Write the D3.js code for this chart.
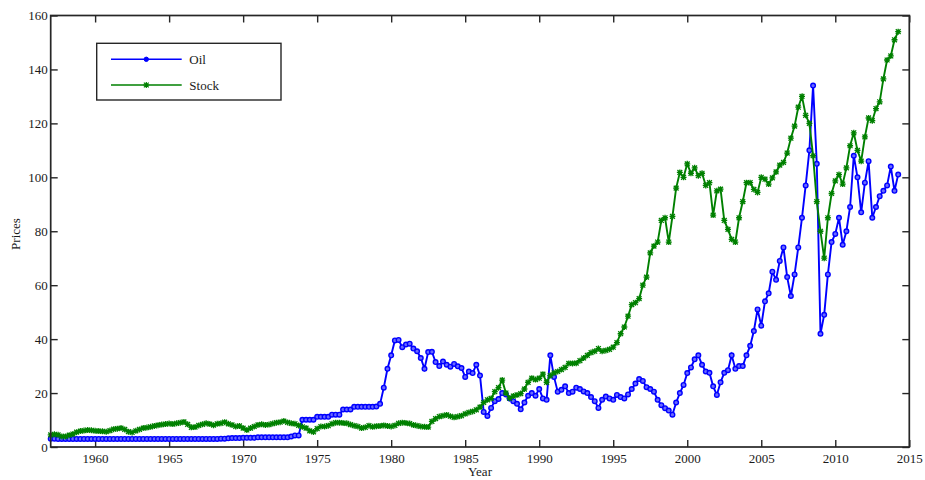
<!DOCTYPE html>
<html lang="en">
<head>
<meta charset="UTF-8">
<title>Oil and Stock prices</title>
<script src="https://d3js.org/d3.v7.min.js"></script>
<style>
    body { margin: 0; background: #fff; }
    text {
        font-family: 'Liberation Serif', 'Times New Roman', serif;
        font-size: 13px;
        fill: #1a1a1a;
    }
    .axis .domain { display: none; }
    .axis line { stroke: #262626; stroke-width: 1.4; }
</style>
</head>
<body>
<svg id="chart" width="925" height="480"></svg>
<script>
    // quarterly values, first one is 1957 Q1
    const startYear = 1957;

    const oilPrices = [
        3.1, 3.1, 3.0, 3.0,     // 1957
        3.0, 3.0, 3.0, 3.0,     // 1958
        3.0, 3.0, 3.0, 3.0,     // 1959
        3.0, 3.0, 3.0, 3.0,     // 1960
        3.0, 3.0, 3.0, 3.0,     // 1961
        3.0, 3.0, 3.0, 3.0,     // 1962
        3.0, 3.0, 3.0, 3.0,     // 1963
        3.0, 3.0, 3.0, 3.0,     // 1964
        3.0, 3.0, 3.0, 3.0,     // 1965
        3.0, 3.0, 3.0, 3.0,     // 1966
        3.0, 3.0, 3.0, 3.0,     // 1967
        3.0, 3.0, 3.1, 3.1,     // 1968
        3.2, 3.3, 3.3, 3.3,     // 1969
        3.4, 3.4, 3.4, 3.4,     // 1970
        3.6, 3.6, 3.6, 3.6,     // 1971
        3.6, 3.6, 3.6, 3.6,     // 1972
        3.6, 3.9, 4.3, 4.3,     // 1973
        10.1, 10.1, 10.1, 10.1, // 1974
        11.2, 11.2, 11.2, 11.2, // 1975
        12.0, 12.0, 12.0, 13.9, // 1976
        13.9, 13.9, 14.9, 14.9, // 1977
        14.9, 14.9, 14.9, 14.9, // 1978
        15.0, 16.0, 22.0, 29.0, // 1979
        34.0, 39.5, 39.7, 37.0, // 1980
        38.0, 38.3, 36.5, 35.5, // 1981
        33.0, 29.0, 35.2, 35.3, // 1982
        31.5, 30.0, 31.7, 30.5, // 1983
        29.8, 30.8, 29.9, 29.3, // 1984
        26.0, 28.0, 27.4, 30.5, // 1985
        26.5, 13.0, 11.5, 14.5, // 1986
        17.0, 17.8, 20.0, 19.5, // 1987
        18.0, 17.0, 16.0, 14.0, // 1988
        16.5, 19.0, 20.0, 19.0, // 1989
        21.5, 18.0, 17.5, 34.0, // 1990
        26.0, 20.5, 21.2, 22.5, // 1991
        20.0, 20.5, 22.0, 21.5, // 1992
        20.6, 20.0, 18.5, 17.0, // 1993
        14.5, 17.5, 18.7, 18.0, // 1994
        17.5, 19.3, 18.5, 18.0, // 1995
        19.5, 21.5, 23.5, 25.2, // 1996
        24.5, 22.2, 21.5, 20.5, // 1997
        17.5, 15.5, 14.4, 13.5, // 1998
        12.0, 16.5, 20.0, 23.0, // 1999
        27.4, 29.5, 32.5, 34.0, // 2000
        30.5, 28.0, 27.5, 22.5, // 2001
        19.3, 24.0, 27.5, 28.5, // 2002
        34.0, 29.0, 30.0, 30.0, // 2003
        34.0, 37.5, 43.0, 51.0, // 2004
        45.0, 54.0, 57.0, 65.0, // 2005
        62.0, 69.0, 74.0, 63.0, // 2006
        56.0, 64.0, 74.0, 85.0, // 2007
        97.0, 110.0, 134.0, 105.0, // 2008
        42.0, 49.0, 64.0, 76.0, // 2009
        79.0, 85.0, 75.0, 80.0, // 2010
        89.0, 108.0, 100.0, 87.0, // 2011
        98.0, 106.0, 85.0, 89.0, // 2012
        93.0, 95.0, 97.0, 104.0, // 2013
        95.0, 101.0             // 2014
    ];

    const stockPrices = [
        4.5, 4.7, 4.5, 3.9,     // 1957
        3.9, 4.4, 4.8, 5.5,     // 1958
        5.9, 6.1, 6.3, 6.2,     // 1959
        6.0, 5.9, 5.8, 5.7,     // 1960
        6.1, 6.6, 6.8, 7.0,     // 1961
        6.5, 5.7, 5.4, 6.0,     // 1962
        6.5, 7.0, 7.2, 7.5,     // 1963
        7.8, 8.1, 8.3, 8.5,     // 1964
        8.7, 8.5, 8.8, 9.0,     // 1965
        9.3, 8.4, 7.3, 7.4,     // 1966
        8.0, 8.4, 8.8, 8.5,     // 1967
        8.1, 8.6, 8.8, 9.2,     // 1968
        8.6, 8.2, 7.6, 7.8,     // 1969
        7.0, 6.3, 7.0, 7.6,     // 1970
        8.2, 8.4, 8.2, 8.3,     // 1971
        8.7, 9.0, 9.2, 9.6,     // 1972
        9.1, 8.8, 8.6, 8.0,     // 1973
        7.5, 7.0, 6.0, 5.6,     // 1974
        6.8, 7.6, 7.6, 7.9,     // 1975
        8.6, 9.0, 9.0, 8.9,     // 1976
        8.8, 8.3, 7.9, 7.6,     // 1977
        7.0, 7.3, 7.9, 7.5,     // 1978
        7.7, 7.8, 8.0, 7.8,     // 1979
        7.6, 8.0, 8.8, 9.0,     // 1980
        8.9, 8.7, 8.2, 7.9,     // 1981
        7.6, 7.5, 7.4, 9.5,     // 1982
        10.5, 11.3, 11.6, 11.9, // 1983
        11.4, 11.0, 11.3, 11.6, // 1984
        12.3, 12.8, 13.2, 13.8, // 1985
        14.8, 16.5, 17.5, 18.0, // 1986
        20.5, 22.0, 24.8, 20.0, // 1987
        18.1, 18.9, 19.3, 19.8, // 1988
        21.5, 24.0, 25.5, 25.0, // 1989
        25.5, 27.0, 24.0, 26.5, // 1990
        27.5, 28.0, 28.7, 29.5, // 1991
        31.0, 31.0, 31.1, 32.0, // 1992
        33.0, 34.0, 35.0, 35.5, // 1993
        36.5, 35.5, 35.8, 36.2, // 1994
        37.0, 38.7, 42.0, 44.5, // 1995
        48.5, 52.8, 53.5, 55.0, // 1996
        60.0, 63.0, 72.0, 74.5, // 1997
        76.0, 84.0, 85.0, 76.0, // 1998
        85.5, 96.0, 101.8, 100.0, // 1999
        105.0, 101.5, 103.5, 100.6, // 2000
        101.5, 97.0, 98.0, 86.0, // 2001
        95.0, 95.6, 84.0, 80.7, // 2002
        77.0, 76.0, 85.0, 91.0, // 2003
        98.0, 98.0, 95.5, 94.4, // 2004
        100.0, 99.3, 97.5, 99.8, // 2005
        102.0, 104.5, 105.5, 109.0, // 2006
        114.5, 119.0, 126.0, 130.0, // 2007
        123.0, 120.0, 108.0, 91.0, // 2008
        80.0, 70.0, 85.0, 94.0, // 2009
        98.7, 101.0, 97.5, 103.5, // 2010
        111.7, 116.5, 110.0, 106.0, // 2011
        115.0, 122.0, 121.0, 125.5, // 2012
        128.0, 136.5, 143.5, 145.0, // 2013
        151.0, 154.0            // 2014
    ];

    const xTicks = [1960, 1965, 1970, 1975, 1980, 1985, 1990, 1995, 2000, 2005, 2010, 2015];
    const yTicks = [0, 20, 40, 60, 80, 100, 120, 140, 160];
    const seriesNames = ["Oil", "Stock"];
    const seriesColors = ["#0000ff", "#008000"];

    const width = 925, height = 480;
    const margin = { left: 50.7, right: 15.7, top: 15.5, bottom: 33 };
    const tickLen = 7;

    const chart = d3.select("#chart");

    const x = d3.scaleLinear()
        .domain([1957, 2015])
        .range([margin.left, width - margin.right]);
    const y = d3.scaleLinear()
        .domain([0, 160])
        .range([height - margin.bottom, margin.top]);

    const toPoints = values => values.map((v, i) => ({ t: startYear + i / 4, v: v }));
    const series = [toPoints(oilPrices), toPoints(stockPrices)];

    // axes, ticks pointing inside the box (matlab style)
    chart.append("g")
        .attr("class", "axis")
        .attr("transform", `translate(0,${y(0)})`)
        .call(d3.axisBottom(x).tickValues(xTicks).tickFormat(d3.format("d"))
            .tickSizeInner(-tickLen).tickSizeOuter(0).tickPadding(7));
    chart.append("g")
        .attr("class", "axis")
        .attr("transform", `translate(0,${y(160)})`)
        .call(d3.axisTop(x).tickValues(xTicks).tickFormat("")
            .tickSizeInner(-tickLen).tickSizeOuter(0));
    chart.append("g")
        .attr("class", "axis")
        .attr("transform", `translate(${x(1957)},0)`)
        .call(d3.axisLeft(y).tickValues(yTicks)
            .tickSizeInner(-tickLen).tickSizeOuter(0).tickPadding(3));
    chart.append("g")
        .attr("class", "axis")
        .attr("transform", `translate(${x(2015)},0)`)
        .call(d3.axisRight(y).tickValues(yTicks).tickFormat("")
            .tickSizeInner(-tickLen).tickSizeOuter(0));

    // axis labels
    chart.append("text")
        .attr("x", (x(1957) + x(2015)) / 2)
        .attr("y", 476)
        .attr("text-anchor", "middle")
        .text("Year");
    chart.append("text")
        .attr("transform", "translate(20,234)rotate(-90)")
        .attr("text-anchor", "middle")
        .text("Prices");

    const line = d3.line().x(d => x(d.t)).y(d => y(d.v));
    const starPath = "M-2.4,-2.4L2.4,2.4M-2.4,2.4L2.4,-2.4M0,-3V3M-3,0H3";

    series.forEach((pts, k) => {
        const g = chart.append("g");
        g.append("path")
            .datum(pts)
            .attr("d", line)
            .attr("fill", "none")
            .attr("stroke", seriesColors[k])
            .attr("stroke-width", 1.9);

        if (k === 0) {
            g.selectAll("circle")
                .data(pts)
                .enter()
                .append("circle")
                .attr("cx", d => x(d.t))
                .attr("cy", d => y(d.v))
                .attr("r", 2.3)
                .attr("fill", "#6a6aff")
                .attr("stroke", seriesColors[k])
                .attr("stroke-width", 1.4);
        } else {
            g.selectAll("path.mk")
                .data(pts)
                .enter()
                .append("path")
                .attr("class", "mk")
                .attr("transform", d => `translate(${x(d.t)},${y(d.v)})`)
                .attr("d", starPath)
                .attr("fill", "none")
                .attr("stroke", seriesColors[k])
                .attr("stroke-width", 1.3);
        }
    });

    // plot box
    chart.append("rect")
        .attr("x", x(1957))
        .attr("y", y(160))
        .attr("width", x(2015) - x(1957))
        .attr("height", y(0) - y(160))
        .attr("fill", "none")
        .attr("stroke", "#262626")
        .attr("stroke-width", 1.7);

    // legend
    const legend = chart.append("g").attr("class", "legend");
    legend.append("rect")
        .attr("x", 96.7)
        .attr("y", 43.3)
        .attr("width", 184.3)
        .attr("height", 56.7)
        .attr("fill", "#fff")
        .attr("stroke", "#262626")
        .attr("stroke-width", 1.4);

    const entries = legend.selectAll("g.entry")
        .data(seriesNames)
        .enter()
        .append("g")
        .attr("class", "entry")
        .attr("transform", (d, i) => `translate(0,${59.3 + i * 25.7})`);

    entries.append("line")
        .attr("x1", 111).attr("x2", 181.7)
        .attr("y1", 0).attr("y2", 0)
        .attr("stroke", (d, i) => seriesColors[i])
        .attr("stroke-width", 1.6);
    entries.filter((d, i) => i === 0)
        .append("circle")
        .attr("cx", 146.3).attr("cy", 0).attr("r", 2.2)
        .attr("fill", seriesColors[0])
        .attr("stroke", seriesColors[0]);
    entries.filter((d, i) => i === 1)
        .append("path")
        .attr("transform", "translate(146.3,0)")
        .attr("d", starPath)
        .attr("stroke", seriesColors[1])
        .attr("stroke-width", 1.2);
    entries.append("text")
        .attr("x", 189.3)
        .attr("y", 4.5)
        .text(d => d);
</script>
</body>
</html>
